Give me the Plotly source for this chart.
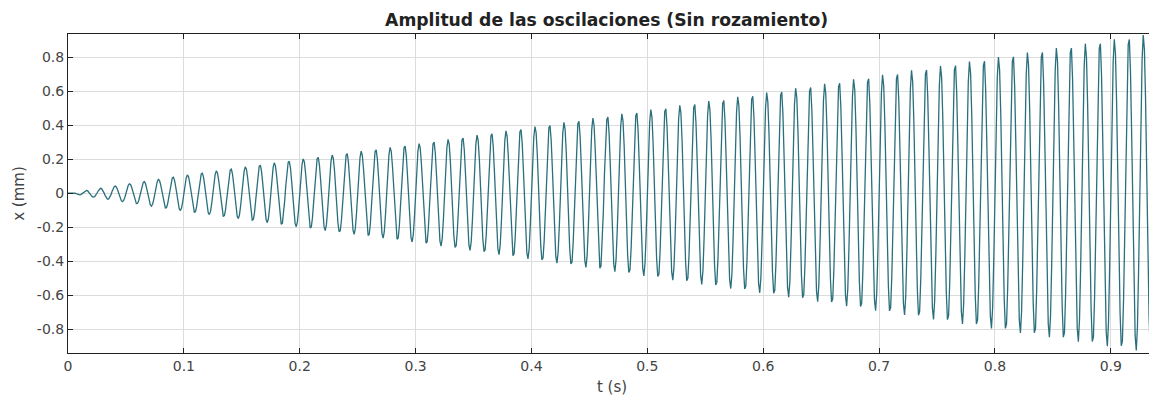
import numpy as np
import plotly.graph_objects as go

# Values
t_env = [0.0, 0.1, 0.2, 0.3, 0.4, 0.5, 0.6, 0.7, 0.8, 0.9, 0.94]   # s
amp_env = [0.0, 0.105, 0.20, 0.29, 0.39, 0.49, 0.59, 0.695, 0.80, 0.905, 0.945]  # mm (peak amplitude)
freq_hz = 80.0          # oscillation frequency read from peak spacing (8 cycles per 0.1 s)
sample_rate = 1000.0    # samples per second
x_ticks = [0, 0.1, 0.2, 0.3, 0.4, 0.5, 0.6, 0.7, 0.8, 0.9]
x_tick_labels = ["0", "0.1", "0.2", "0.3", "0.4", "0.5", "0.6", "0.7", "0.8", "0.9"]
y_ticks = [-0.8, -0.6, -0.4, -0.2, 0, 0.2, 0.4, 0.6, 0.8]
y_tick_labels = ["-0.8", "-0.6", "-0.4", "-0.2", "0", "0.2", "0.4", "0.6", "0.8"]

t = np.arange(0, 0.945, 1.0 / sample_rate)
x = np.interp(t, t_env, amp_env) * np.sin(2 * np.pi * freq_hz * t)

fig = go.Figure()
fig.add_trace(go.Scatter(x=t, y=x, mode="lines",
                         line=dict(color="#2a6f7c", width=1.3),
                         showlegend=False, hoverinfo="skip"))

axis_common = dict(
    showline=True, linecolor="#222222", linewidth=1, mirror="allticks",
    ticks="inside", ticklen=5, tickcolor="#222222",
    showgrid=True, gridcolor="#dcdcdc", gridwidth=1,
    zeroline=False, automargin=False,
    tickfont=dict(family="DejaVu Sans", size=14, color="#444444"),
)

# The page body adds an 8px offset, so the figure is sized to land the plot
# area where the reference has it.
fig.update_layout(
    width=1149, height=388,
    margin=dict(l=60, r=1, t=26, b=43),
    paper_bgcolor="white", plot_bgcolor="white",
    title=dict(text="<b>Amplitud de las oscilaciones (Sin rozamiento)</b>",
               x=0.521, xref="container", xanchor="center",
               y=0.969, yref="container", yanchor="middle",
               font=dict(family="DejaVu Sans", size=17.2, color="#222222")),
    xaxis=dict(range=[0, 0.939], tickvals=x_ticks, ticktext=x_tick_labels,
               title=dict(text="t (s)", standoff=8,
                          font=dict(family="DejaVu Sans", size=15, color="#444444")),
               **axis_common),
    yaxis=dict(range=[-0.94, 0.937], tickvals=y_ticks, ticktext=y_tick_labels,
               title=dict(text="x (mm)", standoff=8,
                          font=dict(family="DejaVu Sans", size=15, color="#444444")),
               **axis_common),
)

fig.write_html("out.html")
